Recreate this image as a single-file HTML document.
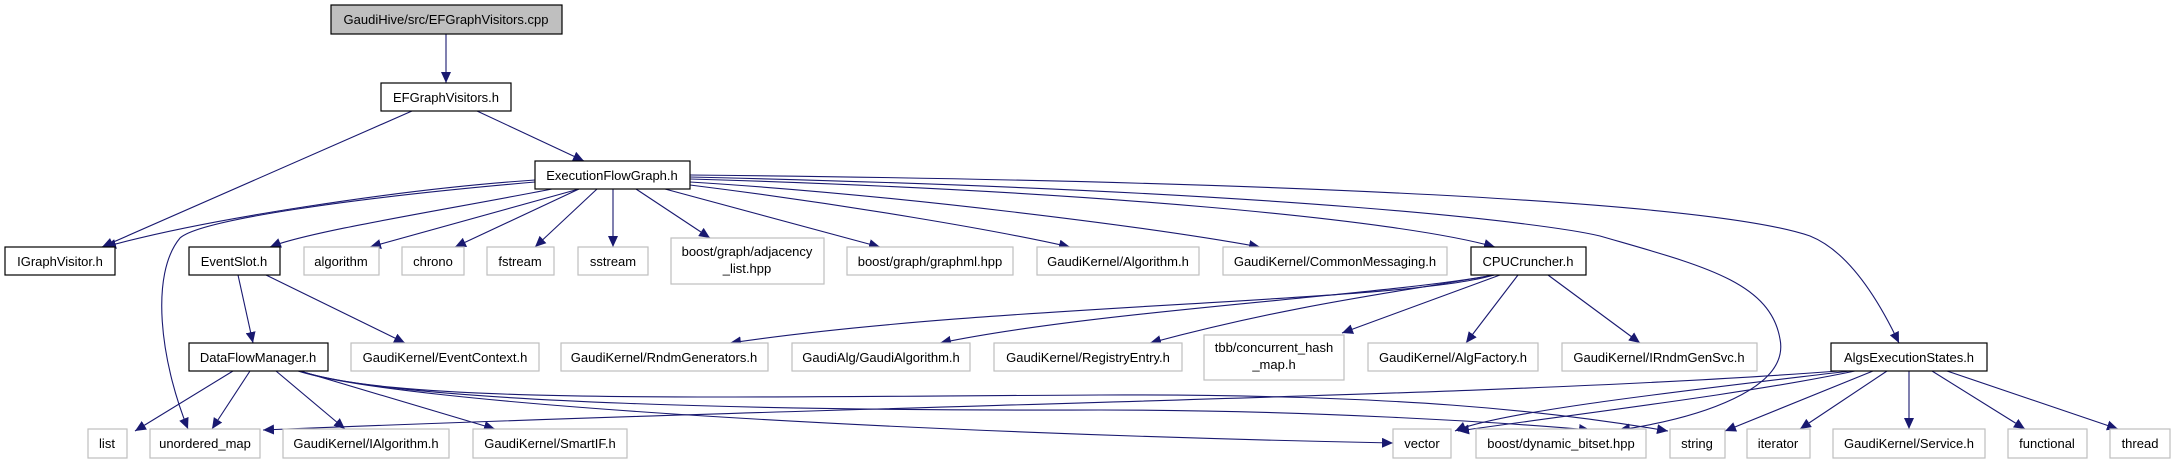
<!DOCTYPE html>
<html><head><meta charset="utf-8"><style>
html,body{margin:0;padding:0;background:#fff;}
svg{display:block;}
text{font-family:"Liberation Sans",sans-serif;font-size:13px;fill:#000;text-anchor:middle;}
.e{fill:none;stroke:#191970;stroke-width:1.1;marker-end:url(#a);}
.n{fill:#fff;stroke:#000;stroke-width:1.2;}
.g{fill:#fff;stroke:#bfbfbf;stroke-width:1.2;}
</style></head><body>
<svg width="2175" height="464" viewBox="0 0 2175 464" xmlns="http://www.w3.org/2000/svg">
<defs><marker id="a" markerUnits="userSpaceOnUse" markerWidth="12" markerHeight="10" refX="11" refY="5" orient="auto"><path d="M0,0 L11,5 L0,10 z" fill="#191970"/></marker></defs>
<path class="e" d="M446,34 L446,83"/>
<path class="e" d="M412,111 L102,247"/>
<path class="e" d="M477,111 L584,161"/>
<path class="e" d="M535,180 C400,189 200,220 105,247"/>
<path class="e" d="M535,182 C350,198 200,220 180,238 C150,274 160,360 188,429"/>
<path class="e" d="M552,189 C450,209 310,231 270,247"/>
<path class="e" d="M579,189 L370,247"/>
<path class="e" d="M579,189 L455,247"/>
<path class="e" d="M597,189 L535,247"/>
<path class="e" d="M613,189 L613,247"/>
<path class="e" d="M636,189 L710,238"/>
<path class="e" d="M665,189 L880,247"/>
<path class="e" d="M690,185 C850,205 1000,231 1070,247"/>
<path class="e" d="M690,182 C900,195 1150,227 1260,247"/>
<path class="e" d="M690,179 C1100,191 1400,220 1495,247"/>
<path class="e" d="M690,177 C1300,191 1550,224 1600,236 C1700,265 1770,281 1780,339 C1790,389 1700,418 1619,430"/>
<path class="e" d="M690,175 C1200,180 1700,198 1810,236 C1850,252 1880,303 1899,343"/>
<path class="e" d="M238,275 L253,343"/>
<path class="e" d="M266,275 L405,343"/>
<path class="e" d="M1494,275 C1400,303 1000,303 730,343"/>
<path class="e" d="M1494,275 C1380,296 1100,310 940,343"/>
<path class="e" d="M1494,275 C1400,292 1300,303 1150,343"/>
<path class="e" d="M1500,275 L1342,333"/>
<path class="e" d="M1518,275 L1466,343"/>
<path class="e" d="M1548,275 L1640,343"/>
<path class="e" d="M233,371 L135,431"/>
<path class="e" d="M250,371 L212,429"/>
<path class="e" d="M276,371 L345,429"/>
<path class="e" d="M300,371 L495,429"/>
<path class="e" d="M298,371 C400,404 900,433 1393,443"/>
<path class="e" d="M300,371 C400,404 800,411 1100,410 C1300,410 1500,422 1590,430"/>
<path class="e" d="M300,371 C400,404 700,397 1100,395 C1400,394 1550,411 1668,431"/>
<path class="e" d="M1838,371 C1500,397 900,404 263,430"/>
<path class="e" d="M1850,371 C1700,389 1500,411 1455,431"/>
<path class="e" d="M1855,371 C1750,393 1600,411 1458,431"/>
<path class="e" d="M1873,371 L1725,431"/>
<path class="e" d="M1887,371 L1800,429"/>
<path class="e" d="M1909,371 L1909,429"/>
<path class="e" d="M1932,371 L2025,429"/>
<path class="e" d="M1947,371 L2118,429"/>
<rect x="331" y="5" width="231" height="29" fill="#bfbfbf" stroke="#000" stroke-width="1.2"/><text x="446" y="24">GaudiHive/src/EFGraphVisitors.cpp</text>
<rect class="n" x="381" y="83" width="130" height="28"/><text x="446" y="102">EFGraphVisitors.h</text>
<rect class="n" x="535" y="161" width="155" height="28"/><text x="612" y="180">ExecutionFlowGraph.h</text>
<rect class="n" x="5" y="247" width="110" height="28"/><text x="60" y="266">IGraphVisitor.h</text>
<rect class="n" x="189" y="247" width="91" height="28"/><text x="234" y="266">EventSlot.h</text>
<rect class="g" x="304" y="247" width="75" height="28"/><text x="341" y="266">algorithm</text>
<rect class="g" x="402" y="247" width="62" height="28"/><text x="433" y="266">chrono</text>
<rect class="g" x="487" y="247" width="67" height="28"/><text x="520" y="266">fstream</text>
<rect class="g" x="578" y="247" width="70" height="28"/><text x="613" y="266">sstream</text>
<rect class="g" x="671" y="238" width="153" height="46"/><text x="747" y="256">boost/graph/adjacency</text><text x="747" y="273">_list.hpp</text>
<rect class="g" x="847" y="247" width="166" height="28"/><text x="930" y="266">boost/graph/graphml.hpp</text>
<rect class="g" x="1037" y="247" width="162" height="28"/><text x="1118" y="266">GaudiKernel/Algorithm.h</text>
<rect class="g" x="1223" y="247" width="224" height="28"/><text x="1335" y="266">GaudiKernel/CommonMessaging.h</text>
<rect class="n" x="1471" y="247" width="115" height="28"/><text x="1528" y="266">CPUCruncher.h</text>
<rect class="n" x="189" y="343" width="139" height="28"/><text x="258" y="362">DataFlowManager.h</text>
<rect class="g" x="351" y="343" width="188" height="28"/><text x="445" y="362">GaudiKernel/EventContext.h</text>
<rect class="g" x="561" y="343" width="207" height="28"/><text x="664" y="362">GaudiKernel/RndmGenerators.h</text>
<rect class="g" x="792" y="343" width="178" height="28"/><text x="881" y="362">GaudiAlg/GaudiAlgorithm.h</text>
<rect class="g" x="994" y="343" width="188" height="28"/><text x="1088" y="362">GaudiKernel/RegistryEntry.h</text>
<rect class="g" x="1204" y="335" width="140" height="45"/><text x="1274" y="352">tbb/concurrent_hash</text><text x="1274" y="369">_map.h</text>
<rect class="g" x="1368" y="343" width="170" height="28"/><text x="1453" y="362">GaudiKernel/AlgFactory.h</text>
<rect class="g" x="1562" y="343" width="195" height="28"/><text x="1659" y="362">GaudiKernel/IRndmGenSvc.h</text>
<rect class="n" x="1831" y="343" width="156" height="28"/><text x="1909" y="362">AlgsExecutionStates.h</text>
<rect class="g" x="88" y="429" width="39" height="29"/><text x="107" y="448">list</text>
<rect class="g" x="150" y="429" width="110" height="29"/><text x="205" y="448">unordered_map</text>
<rect class="g" x="283" y="429" width="166" height="29"/><text x="366" y="448">GaudiKernel/IAlgorithm.h</text>
<rect class="g" x="473" y="429" width="154" height="29"/><text x="550" y="448">GaudiKernel/SmartIF.h</text>
<rect class="g" x="1393" y="429" width="58" height="29"/><text x="1422" y="448">vector</text>
<rect class="g" x="1476" y="429" width="170" height="29"/><text x="1561" y="448">boost/dynamic_bitset.hpp</text>
<rect class="g" x="1670" y="429" width="55" height="29"/><text x="1697" y="448">string</text>
<rect class="g" x="1747" y="429" width="63" height="29"/><text x="1778" y="448">iterator</text>
<rect class="g" x="1833" y="429" width="152" height="29"/><text x="1909" y="448">GaudiKernel/Service.h</text>
<rect class="g" x="2008" y="429" width="79" height="29"/><text x="2047" y="448">functional</text>
<rect class="g" x="2110" y="429" width="60" height="29"/><text x="2140" y="448">thread</text>
</svg>
</body></html>
